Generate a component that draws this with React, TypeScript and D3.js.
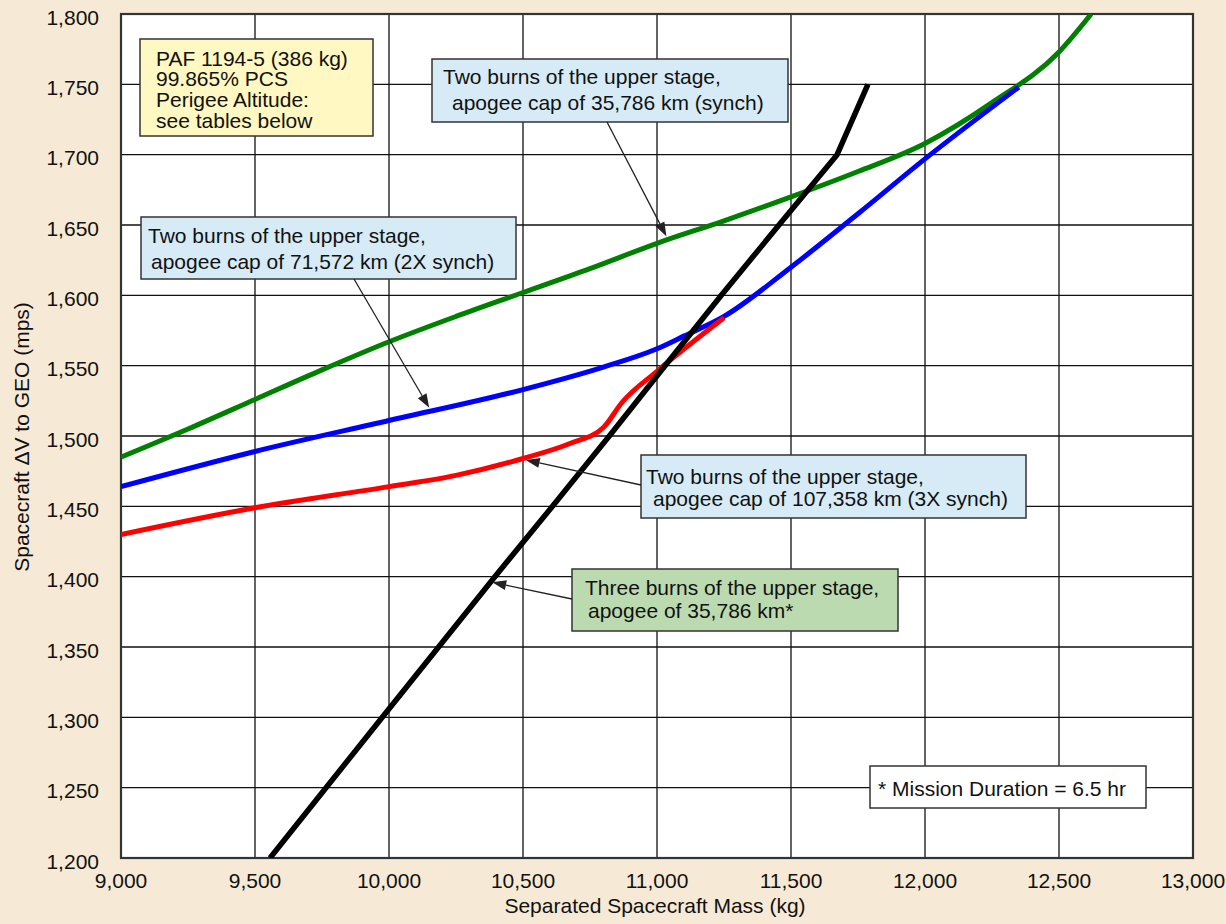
import React from "react";
import * as d3 from "d3";

const xTicks = [9000, 9500, 10000, 10500, 11000, 11500, 12000, 12500, 13000];
const yTicks = [1200, 1250, 1300, 1350, 1400, 1450, 1500, 1550, 1600, 1650, 1700, 1750, 1800];

const greenMass = [9000, 9250, 9500, 9750, 10000, 10250, 10500, 10750, 11000, 11250, 11500, 11750, 12000, 12250, 12500, 12620];
const greenDv = [1485, 1505, 1526, 1547, 1567, 1585, 1602, 1619, 1637, 1653, 1670, 1688, 1708, 1737, 1773, 1800];

const blueMass = [9000, 9500, 10000, 10500, 10800, 11000, 11100, 11250, 11500, 11750, 12000, 12350];
const blueDv = [1464, 1489, 1511, 1533, 1549, 1562, 1571, 1585, 1620, 1658, 1697, 1748];

const redMass = [9000, 9500, 10000, 10250, 10500, 10680, 10800, 10870, 11000, 11250];
const redDv = [1430, 1449, 1464, 1472, 1484, 1495, 1506, 1524, 1546, 1584];

const blackMass = [9556, 9765, 9975, 10185, 10395, 10610, 10822, 11030, 11240, 11455, 11672, 11787];
const blackDv = [1200, 1250, 1300, 1350, 1400, 1450, 1500, 1550, 1600, 1650, 1700, 1750];

const W = 1226;
const H = 924;
const M = { left: 121, right: 1193, top: 14, bottom: 858 };
const FONT = "'Liberation Sans', Arial, Helvetica, sans-serif";

const x = d3.scaleLinear().domain([9000, 13000]).range([M.left, M.right]);
const y = d3.scaleLinear().domain([1200, 1800]).range([M.bottom, M.top]);

type Box = {
  x: number; y: number; w: number; h: number; fill: string;
  lines: { text: string; dx: number; base: number }[];
  arrowFrom?: [number, number];
  arrowTo?: [number, number]; // data coords
};

const boxes: Box[] = [
  {
    x: 140, y: 39, w: 233, h: 97, fill: "#fff8c2",
    lines: [
      { text: "PAF 1194-5 (386 kg)", dx: 16, base: 26.5 },
      { text: "99.865% PCS", dx: 16, base: 47 },
      { text: "Perigee Altitude:", dx: 16, base: 68 },
      { text: "see tables below", dx: 16, base: 89 },
    ],
  },
  {
    x: 432, y: 59, w: 356, h: 63, fill: "#d6ebf6",
    lines: [
      { text: "Two burns of the upper stage,", dx: 11, base: 25 },
      { text: "apogee cap of 35,786 km (synch)", dx: 20, base: 51 },
    ],
    arrowFrom: [607, 122],
    arrowTo: [11035, 1642],
  },
  {
    x: 141, y: 217, w: 375, h: 62, fill: "#d6ebf6",
    lines: [
      { text: "Two burns of the upper stage,", dx: 7, base: 26 },
      { text: "apogee cap of 71,572 km (2X synch)", dx: 10, base: 52 },
    ],
    arrowFrom: [354, 279],
    arrowTo: [10150, 1520],
  },
  {
    x: 641, y: 455, w: 385, h: 63, fill: "#d6ebf6",
    lines: [
      { text: "Two burns of the upper stage,", dx: 5, base: 28.5 },
      { text: "apogee cap of 107,358 km (3X synch)", dx: 12, base: 51 },
    ],
    arrowFrom: [641, 485],
    arrowTo: [10510, 1483],
  },
  {
    x: 572, y: 569, w: 326, h: 62, fill: "#bcdab0",
    lines: [
      { text: "Three burns of the upper stage,", dx: 13, base: 26 },
      { text: "apogee of 35,786 km*", dx: 16, base: 49 },
    ],
    arrowFrom: [572, 599],
    arrowTo: [10385, 1396],
  },
  {
    x: 870, y: 766, w: 276, h: 42, fill: "#ffffff",
    lines: [{ text: "* Mission Duration = 6.5 hr", dx: 8, base: 30 }],
  },
];

function Arrow({ from, to }: { from: [number, number]; to: [number, number] }) {
  const [x1, y1] = from;
  const [x2, y2] = to;
  const ang = Math.atan2(y2 - y1, x2 - x1);
  const L = 14;
  const hw = 5;
  const bx = x2 - L * Math.cos(ang);
  const by = y2 - L * Math.sin(ang);
  const px = -Math.sin(ang) * hw;
  const py = Math.cos(ang) * hw;
  return (
    <g>
      <line x1={x1} y1={y1} x2={bx} y2={by} stroke="#222" strokeWidth={1.3} />
      <polygon points={`${x2},${y2} ${bx + px},${by + py} ${bx - px},${by - py}`} fill="#222" />
    </g>
  );
}

export default function App() {
  const mk = (xs: number[], ys: number[]) => xs.map((m, i) => [m, ys[i]] as [number, number]);
  const smooth = d3.line<[number, number]>().x((d) => x(d[0])).y((d) => y(d[1])).curve(d3.curveMonotoneX);
  const straight = d3.line<[number, number]>().x((d) => x(d[0])).y((d) => y(d[1])).curve(d3.curveLinear);

  const series = [
    { d: smooth(mk(greenMass, greenDv)), c: "#008000", w: 5 },
    { d: smooth(mk(blueMass, blueDv)), c: "#0000ff", w: 5 },
    { d: smooth(mk(redMass, redDv)), c: "#ff0000", w: 5 },
    { d: straight(mk(blackMass, blackDv)), c: "#000000", w: 5.5 },
  ];

  return (
    <svg width={W} height={H} style={{ position: "absolute", left: 0, top: 0, fontFamily: FONT }}>
      <rect x={0} y={0} width={W} height={H} fill="#f6ead6" />
      <defs>
        <clipPath id="plot">
          <rect x={M.left} y={M.top} width={M.right - M.left} height={M.bottom - M.top} />
        </clipPath>
      </defs>
      <rect x={M.left} y={M.top} width={M.right - M.left} height={M.bottom - M.top} fill="#ffffff" />
      {xTicks.map((t) => (
        <line key={"gx" + t} x1={x(t)} x2={x(t)} y1={M.top} y2={M.bottom} stroke="#111" strokeWidth={1.3} />
      ))}
      {yTicks.map((t) => (
        <line key={"gy" + t} x1={M.left} x2={M.right} y1={y(t)} y2={y(t)} stroke="#111" strokeWidth={1.3} />
      ))}
      <rect x={M.left} y={M.top} width={M.right - M.left} height={M.bottom - M.top} fill="none" stroke="#333" strokeWidth={2.2} />
      <g clipPath="url(#plot)">
        {series.map((s, i) => (
          <path key={i} d={s.d || ""} fill="none" stroke={s.c} strokeWidth={s.w} strokeLinejoin="round" />
        ))}
      </g>
      {xTicks.map((t) => (
        <text key={"tx" + t} x={x(t)} y={888} fontSize={21} textAnchor="middle" fill="#111">
          {d3.format(",")(t)}
        </text>
      ))}
      {yTicks.map((t) => (
        <text key={"ty" + t} x={99} y={y(t) + 10.5} fontSize={21} textAnchor="end" fill="#111">
          {d3.format(",")(t)}
        </text>
      ))}
      <text x={(M.left + M.right) / 2 - 2} y={913} fontSize={21} textAnchor="middle" fill="#111">
        Separated Spacecraft Mass (kg)
      </text>
      <text transform={`translate(29,437) rotate(-90)`} fontSize={21} textAnchor="middle" fill="#111">
        Spacecraft ΔV to GEO (mps)
      </text>
      {boxes.map((b, i) => (
        <g key={"b" + i}>
          <rect x={b.x} y={b.y} width={b.w} height={b.h} fill={b.fill} stroke="#333" strokeWidth={1.5} />
          {b.lines.map((l, j) => (
            <text key={j} x={b.x + l.dx} y={b.y + l.base} fontSize={21} fill="#111">
              {l.text}
            </text>
          ))}
        </g>
      ))}
      {boxes
        .filter((b) => b.arrowFrom && b.arrowTo)
        .map((b, i) => (
          <Arrow key={"a" + i} from={b.arrowFrom!} to={[x(b.arrowTo![0]), y(b.arrowTo![1])]} />
        ))}
    </svg>
  );
}
